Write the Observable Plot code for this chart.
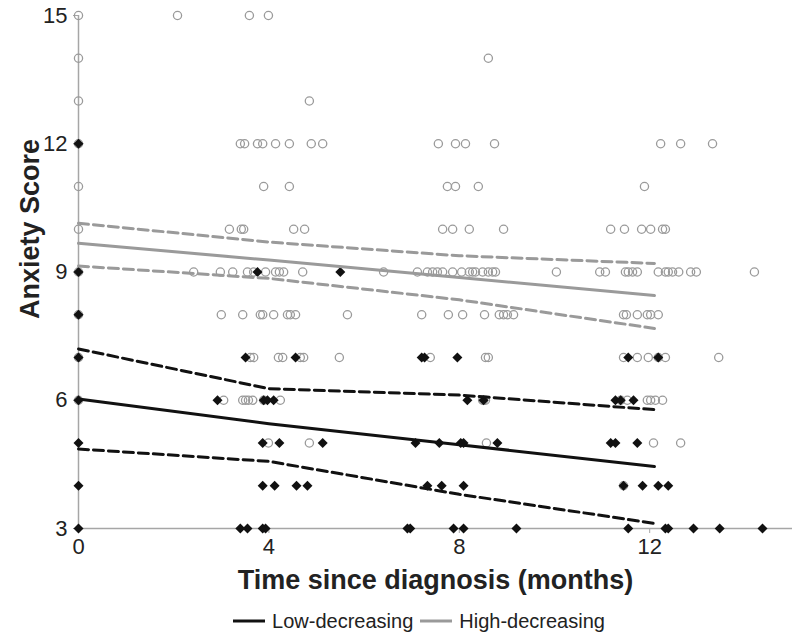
<!DOCTYPE html>
<html>
<head>
<meta charset="utf-8">
<script src="https://cdn.jsdelivr.net/npm/d3@7"></script>
<script src="https://cdn.jsdelivr.net/npm/@observablehq/plot@0.6"></script>
<style>
  body { margin: 0; background: #fff; font-family: "Liberation Sans", Arial, sans-serif; }
  #legend { display: flex; justify-content: center; align-items: center; height: 52px; font-size: 20px; color: #222; padding-left: 38px; }
  #legend .item { display: flex; align-items: center; }
  #legend svg { margin-right: 7px; }
</style>
</head>
<body>
<div id="chart"></div>
<div id="legend"></div>
<script>
// ---- Data (months since diagnosis, grouped by anxiety score) ----
const xTicks = [0, 4, 8, 12];
const yTicks = [3, 6, 9, 12, 15];

// High-decreasing (open grey circles)
const highAt15 = [0, 2.08, 3.59, 3.99];
const highAt14 = [0, 8.61];
const highAt13 = [0, 4.85];
const highAt12 = [0, 3.40, 3.49, 3.76, 3.87, 4.14, 4.43, 4.89, 5.13, 7.56, 7.92, 8.13, 8.74, 12.23, 12.65, 13.32];
const highAt11 = [0, 3.89, 4.43, 7.75, 7.92, 8.40, 11.89];
const highAt10 = [0, 3.17, 3.42, 3.47, 4.52, 4.75, 7.65, 7.86, 8.21, 8.93, 11.18, 11.47, 11.83, 12.02, 12.27, 12.33];
const highAt9 = [0, 2.42, 2.98, 3.24, 3.55, 3.68, 3.93, 4.14, 4.22, 4.31, 4.71, 6.41, 7.12, 7.33, 7.44, 7.54, 7.65, 7.86, 8.05, 8.21, 8.28, 8.34, 8.49, 8.61, 8.70, 8.76, 10.04, 10.95, 11.07, 11.49, 11.55, 11.64, 11.74, 12.18, 12.33, 12.39, 12.48, 12.61, 12.86, 12.98, 14.20];
const highAt8 = [0, 3.00, 3.45, 3.82, 3.87, 4.10, 4.39, 4.45, 4.56, 5.65, 7.21, 7.77, 8.07, 8.53, 8.84, 8.93, 9.01, 9.14, 11.45, 11.51, 11.74, 11.95, 12.02, 12.18];
const highAt7 = [0, 3.61, 3.68, 4.20, 4.29, 4.66, 4.73, 5.48, 7.39, 8.55, 8.61, 11.45, 11.74, 11.97, 12.18, 12.33, 13.45];
const highAt6 = [0, 3.05, 3.45, 3.51, 3.57, 3.66, 3.89, 4.24, 8.49, 8.51, 8.55, 11.39, 11.53, 11.95, 12.02, 12.12, 12.27];
const highAt5 = [3.99, 4.85, 8.57, 12.08, 12.65];
const highAt4 = [11.45];

// Low-decreasing (black diamonds)
const lowAt12 = [0];
const lowAt9 = [0, 3.76, 5.50];
const lowAt8 = [0];
const lowAt7 = [0, 3.51, 4.56, 7.21, 7.27, 7.96, 11.55, 12.18];
const lowAt6 = [0, 2.92, 3.89, 3.97, 4.10, 8.17, 8.51, 11.28, 11.39, 11.66];
const lowAt5 = [0, 3.87, 4.22, 5.13, 7.08, 7.58, 8.03, 8.09, 8.80, 11.18, 11.28, 11.74];
const lowAt4 = [0, 3.87, 4.12, 4.58, 4.81, 7.33, 7.63, 8.09, 11.45, 11.85, 12.18, 12.39];
const lowAt3 = [0, 3.40, 3.55, 3.87, 3.93, 6.91, 6.97, 7.88, 8.09, 9.20, 11.55, 12.33, 12.39, 12.92, 13.47, 14.37];

// Fitted trajectories with confidence bands
const fitMonths = [0, 4, 8, 12.1];
const lowFit = [6.03, 5.45, 4.96, 4.45];
const lowUpper = [7.2, 6.27, 6.12, 5.78];
const lowLower = [4.86, 4.57, 3.8, 3.12];
const highFit = [9.67, 9.28, 8.87, 8.45];
const highUpper = [10.14, 9.7, 9.38, 9.2];
const highLower = [9.14, 8.85, 8.35, 7.68];

const seriesNames = ["Low-decreasing", "High-decreasing"];
const seriesColors = ["#111111", "#9a9a9a"];

// ---- Build tables ----
function rows(score, months) { return months.map(m => ({month: m, score})); }
const highPts = [
  ...rows(15, highAt15), ...rows(14, highAt14), ...rows(13, highAt13), ...rows(12, highAt12),
  ...rows(11, highAt11), ...rows(10, highAt10), ...rows(9, highAt9), ...rows(8, highAt8),
  ...rows(7, highAt7), ...rows(6, highAt6), ...rows(5, highAt5), ...rows(4, highAt4)
];
const lowPts = [
  ...rows(12, lowAt12), ...rows(9, lowAt9), ...rows(8, lowAt8), ...rows(7, lowAt7),
  ...rows(6, lowAt6), ...rows(5, lowAt5), ...rows(4, lowAt4), ...rows(3, lowAt3)
];
const curve = vals => fitMonths.map((m, i) => ({month: m, score: vals[i]}));

const axisColor = "#a6a6a6";
const chart = Plot.plot({
  width: 800,
  height: 595,
  marginLeft: 78,
  marginRight: 8,
  marginTop: 15,
  marginBottom: 67,
  x: {domain: [0, 15]},
  y: {domain: [3, 15]},
  style: {fontFamily: "Liberation Sans, Arial, sans-serif", background: "#fff"},
  marks: [
    Plot.axisY({ticks: yTicks, tickSize: 5, tickPadding: 6, stroke: axisColor, fill: "#222", fontSize: 22, label: null}),
    Plot.axisX({ticks: xTicks, tickSize: 5, tickPadding: 5, stroke: axisColor, fill: "#222", fontSize: 22, label: null}),
    Plot.ruleX([0], {stroke: axisColor, strokeWidth: 1.5}),
    Plot.ruleY([3], {stroke: axisColor, strokeWidth: 1.5}),
    Plot.dot(highPts, {x: "month", y: "score", r: 4.1, stroke: seriesColors[1], strokeWidth: 1.3, fill: "none"}),
    Plot.dot(lowPts, {x: "month", y: "score", r: 4.5, symbol: "diamond2", fill: seriesColors[0], stroke: "none"}),
    Plot.line(curve(highUpper), {x: "month", y: "score", stroke: seriesColors[1], strokeWidth: 3, strokeDasharray: "10,5"}),
    Plot.line(curve(highLower), {x: "month", y: "score", stroke: seriesColors[1], strokeWidth: 3, strokeDasharray: "10,5"}),
    Plot.line(curve(highFit), {x: "month", y: "score", stroke: seriesColors[1], strokeWidth: 3}),
    Plot.line(curve(lowUpper), {x: "month", y: "score", stroke: seriesColors[0], strokeWidth: 3, strokeDasharray: "10,5"}),
    Plot.line(curve(lowLower), {x: "month", y: "score", stroke: seriesColors[0], strokeWidth: 3, strokeDasharray: "10,5"}),
    Plot.line(curve(lowFit), {x: "month", y: "score", stroke: seriesColors[0], strokeWidth: 3}),
    Plot.text(["Anxiety Score"], {frameAnchor: "left", textAnchor: "middle", lineAnchor: "middle", dx: -48, dy: -43, rotate: -90, fontSize: 27, fontWeight: "bold", fill: "#222"}),
    Plot.text(["Time since diagnosis (months)"], {frameAnchor: "bottom", lineAnchor: "middle", dy: 52, fontSize: 27, fontWeight: "bold", fill: "#222"})
  ]
});
document.getElementById("chart").appendChild(chart);

// ---- Legend ----
const legend = document.getElementById("legend");
seriesNames.forEach((name, i) => {
  const item = document.createElement("div");
  item.className = "item";
  item.style.marginRight = i === 0 ? "7px" : "0";
  item.innerHTML = `<svg width="32" height="6"><line x1="0" y1="3" x2="32" y2="3" stroke="${seriesColors[i]}" stroke-width="3"/></svg><span>${name}</span>`;
  legend.appendChild(item);
});
</script>
</body>
</html>
